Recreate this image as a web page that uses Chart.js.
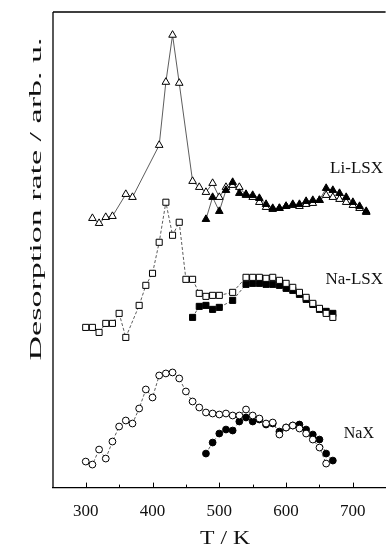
<!DOCTYPE html>
<html>
<head>
<meta charset="utf-8">
<script src="https://cdn.jsdelivr.net/npm/chart.js@4.4.0/dist/chart.umd.min.js"></script>
<style>
  html, body { margin: 0; padding: 0; background: #fff; }
</style>
</head>
<body>
<canvas id="chart" width="391" height="558"></canvas>
<script>
// Desorption rate vs temperature (arb. units)

const liOpenT = [310, 320, 330, 340, 360, 370, 410, 420, 430, 440, 460, 470, 480, 490, 500,
    510, 520, 530, 540, 550, 560, 570, 580, 590, 600, 610, 620, 630, 640, 650, 660, 670, 680, 690, 700, 710, 720];
const liOpenY = [269, 264, 270, 271, 293, 290, 342, 405, 452, 404, 306, 300, 295, 304, 290,
    300, 302, 300, 292, 290, 285, 280, 278, 279, 281, 282, 281, 283, 284, 287, 292, 290, 288, 285, 282, 279, 275];

const liFillT = [480, 490, 500, 510, 520, 530, 540, 550, 560, 570, 580, 590, 600, 610, 620,
    630, 640, 650, 660, 670, 680, 690, 700, 710, 720];
const liFillY = [268, 290, 276, 297, 305, 294, 293, 292, 289, 283, 279, 279, 281, 283, 283,
    286, 287, 287, 299, 297, 294, 290, 285, 281, 276];

const naOpenT = [300, 310, 320, 330, 340, 350, 360, 380, 390, 400, 410, 420, 430, 440, 450, 460, 470, 480, 490, 500,
    520, 540, 550, 560, 570, 580, 590, 600, 610, 620, 630, 640, 650, 660, 670];
const naOpenY = [160, 160, 155, 164, 164, 174, 150, 182, 202, 214, 245, 285, 252, 265, 208, 208, 194, 191, 192, 192,
    195, 210, 210, 210, 209, 210, 207, 204, 200, 195, 190, 184, 179, 174, 170];

const naFillT = [460, 470, 480, 490, 500, 520, 540, 550, 560, 570, 580, 590, 600, 610, 620, 630, 640, 650, 660, 670];
const naFillY = [170, 181, 182, 178, 180, 187, 203, 204, 204, 203, 203, 202, 199, 197, 193, 188, 183, 178, 176, 174];

const naxOpenT = [300, 310, 320, 330, 340, 350, 360, 370, 380, 390, 400, 410, 420, 430, 440, 450, 460, 470, 480,
    490, 500, 510, 520, 530, 540, 550, 560, 570, 580, 590, 600, 610, 620, 630, 640, 650, 660];
const naxOpenY = [26, 23, 38, 29, 46, 61, 67, 64, 79, 98, 90, 112, 114, 115, 109, 96, 86, 80, 75,
    74, 73, 74, 72, 72, 78, 72, 69, 64, 65, 53, 60, 62, 59, 54, 48, 40, 24];

const naxFillT = [480, 490, 500, 510, 520, 530, 540, 550, 560, 570, 580, 590, 600, 610, 620, 630, 640, 650, 660, 670];
const naxFillY = [34, 45, 54, 58, 57, 66, 70, 66, 68, 63, 64, 56, 60, 62, 63, 58, 53, 48, 34, 27];

const xTicks = [300, 400, 500, 600, 700];
const xMinorTicks = [350, 450, 550, 650];

const seriesLabels = [
    { text: 'Li-LSX', x: 383, y: 169, size: 17 },
    { text: 'Na-LSX', x: 383, y: 280, size: 17 },
    { text: 'NaX', x: 374, y: 434, size: 16 }
];

const serif = '"Liberation Serif", "DejaVu Serif", serif';

function pts(xs, ys) {
    return xs.map((x, i) => ({ x: x, y: ys[i] }));
}

function series(label, xs, ys, style, filled, dash, order) {
    return {
        label: label,
        data: pts(xs, ys),
        borderColor: '#333',
        borderWidth: 0.8,
        borderDash: dash,
        pointStyle: style,
        pointRadius: style === 'circle' ? 3.4 : (style === 'rect' ? 4.3 : 4.4),
        pointBorderWidth: 1,
        pointBorderColor: '#000',
        pointBackgroundColor: filled ? '#000' : '#fff',
        fill: false,
        tension: 0,
        order: order
    };
}

// draw text stretched along its own direction, like the scanned original
function stretchedText(ctx, text, cx, cy, width, angle) {
    const w = ctx.measureText(text).width;
    ctx.save();
    ctx.translate(cx, cy);
    ctx.rotate(angle);
    ctx.scale(width / w, 1);
    ctx.fillText(text, 0, 0);
    ctx.restore();
}

// frame, inward ticks, axis titles and curve labels
const decorations = {
    id: 'decorations',
    afterDraw(chart) {
        const ctx = chart.ctx;
        const a = chart.chartArea;
        const xs = chart.scales.x;
        ctx.save();
        ctx.strokeStyle = '#000';
        ctx.lineWidth = 1.3;
        ctx.beginPath();
        ctx.moveTo(a.left, a.top);
        ctx.lineTo(a.right, a.top);
        ctx.moveTo(a.left, a.top);
        ctx.lineTo(a.left, a.bottom);
        ctx.stroke();

        ctx.lineWidth = 1;
        ctx.beginPath();
        xTicks.forEach(v => {
            const px = Math.round(xs.getPixelForValue(v)) + 0.5;
            ctx.moveTo(px, a.bottom);
            ctx.lineTo(px, a.bottom - 5);
        });
        xMinorTicks.forEach(v => {
            const px = Math.round(xs.getPixelForValue(v)) + 0.5;
            ctx.moveTo(px, a.bottom);
            ctx.lineTo(px, a.bottom - 3);
        });
        ctx.stroke();

        ctx.fillStyle = '#111';
        ctx.textAlign = 'center';
        ctx.textBaseline = 'middle';
        ctx.font = '16px ' + serif;
        stretchedText(ctx, 'Desorption rate / arb. u.', 37, 199, 323, -Math.PI / 2);
        ctx.font = '18px ' + serif;
        stretchedText(ctx, 'T / K', 225, 539, 50, 0);

        ctx.textAlign = 'right';
        seriesLabels.forEach(l => {
            ctx.font = l.size + 'px ' + serif;
            ctx.fillText(l.text, l.x, l.y);
        });
        ctx.restore();
    }
};

new Chart(document.getElementById('chart'), {
    type: 'line',
    data: {
        datasets: [
            series('Li-LSX open', liOpenT, liOpenY, 'triangle', false, [], 2),
            series('Li-LSX filled', liFillT, liFillY, 'triangle', true, [], 1),
            series('Na-LSX open', naOpenT, naOpenY, 'rect', false, [3, 2], 3),
            series('Na-LSX filled', naFillT, naFillY, 'rect', true, [3, 2], 4),
            series('NaX open', naxOpenT, naxOpenY, 'circle', false, [3, 2], 5),
            series('NaX filled', naxFillT, naxFillY, 'circle', true, [3, 2], 6)
        ]
    },
    options: {
        responsive: false,
        animation: false,
        layout: { padding: { left: 53, top: 12, right: 0, bottom: 22 } },
        plugins: {
            legend: { display: false },
            tooltip: { enabled: false }
        },
        scales: {
            x: {
                type: 'linear',
                min: 251,
                max: 749,
                afterBuildTicks: axis => { axis.ticks = xTicks.map(v => ({ value: v })); },
                grid: { display: false, drawTicks: false },
                border: { display: true, color: '#000', width: 1.3 },
                ticks: {
                    padding: 14,
                    color: '#111',
                    font: { family: serif, size: 17 }
                }
            },
            y: {
                display: false,
                min: 0,
                max: 475
            }
        }
    },
    plugins: [decorations]
});
</script>
</body>
</html>
